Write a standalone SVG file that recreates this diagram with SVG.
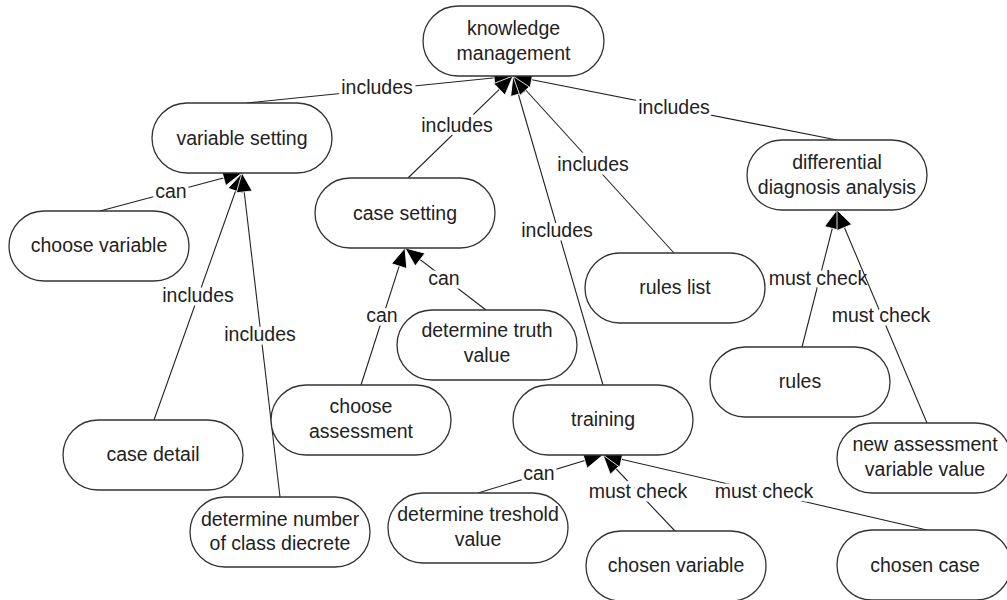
<svg xmlns="http://www.w3.org/2000/svg" width="1007" height="600" viewBox="0 0 1007 600">
<style>
.bg{fill:#fff}
.node rect{fill:#fff;stroke:#333;stroke-width:1.3}
.node text{font-family:"Liberation Sans",Arial,sans-serif;font-size:19.5px;fill:#222;text-anchor:middle}
.edge line{stroke:#222;stroke-width:1.1;fill:none;marker-end:url(#arr)}
.edge text{font-family:"Liberation Sans",Arial,sans-serif;font-size:19.5px;fill:#222;text-anchor:middle;stroke:#fff;stroke-width:7;paint-order:stroke;stroke-linejoin:round}
</style>
<defs>
<marker id="arr" markerUnits="userSpaceOnUse" markerWidth="22" markerHeight="18" refX="19" refY="8" orient="auto" overflow="visible">
<path d="M0,0 L19,8 L0,16 z" fill="#000" stroke="#fff" stroke-width="0.8"/>
</marker>
</defs>
<rect class="bg" x="0" y="0" width="1007" height="600"/>
<g id="connectors">
<g class="edge" id="e1"><line x1="247" y1="103" x2="513" y2="76"/><text x="377" y="93.5">includes</text></g>
<g class="edge" id="e2"><line x1="408" y1="178" x2="513" y2="76"/><text x="457" y="132">includes</text></g>
<g class="edge" id="e3"><line x1="603" y1="385" x2="513" y2="76"/><text x="557" y="236.5">includes</text></g>
<g class="edge" id="e4"><line x1="674" y1="253" x2="513" y2="76"/><text x="593" y="171">includes</text></g>
<g class="edge" id="e5"><line x1="837" y1="140" x2="513" y2="76"/><text x="674" y="114">includes</text></g>
<g class="edge" id="e6"><line x1="100" y1="211" x2="242" y2="173"/><text x="171" y="198">can</text></g>
<g class="edge" id="e7"><line x1="154" y1="420" x2="242" y2="173"/><text x="198" y="302">includes</text></g>
<g class="edge" id="e8"><line x1="280" y1="497" x2="242" y2="173"/><text x="260" y="341">includes</text></g>
<g class="edge" id="e9"><line x1="361" y1="385" x2="405" y2="248"/><text x="382" y="322">can</text></g>
<g class="edge" id="e10"><line x1="486" y1="310" x2="405" y2="248"/><text x="444" y="285">can</text></g>
<g class="edge" id="e11"><line x1="478" y1="493" x2="603" y2="455"/><text x="539" y="480">can</text></g>
<g class="edge" id="e12"><line x1="675" y1="531" x2="603" y2="455"/><text x="638" y="498">must check</text></g>
<g class="edge" id="e13"><line x1="927" y1="530" x2="603" y2="455"/><text x="764" y="498">must check</text></g>
<g class="edge" id="e14"><line x1="802" y1="347" x2="837" y2="210"/><text x="818" y="285">must check</text></g>
<g class="edge" id="e15"><line x1="927" y1="423" x2="837" y2="210"/><text x="881" y="321.5">must check</text></g>
</g>
<g id="nodes">
<g class="node" id="knowledge-management"><rect x="423" y="6" width="181" height="70" rx="35"/><text x="513.5" y="35">knowledge</text><text x="513.5" y="60">management</text></g>
<g class="node" id="variable-setting"><rect x="152" y="103" width="180" height="70" rx="35"/><text x="242" y="144.5">variable setting</text></g>
<g class="node" id="choose-variable"><rect x="9" y="211" width="180" height="70" rx="35"/><text x="99" y="252">choose variable</text></g>
<g class="node" id="case-setting"><rect x="315" y="178" width="180" height="70" rx="35"/><text x="405" y="219.5">case setting</text></g>
<g class="node" id="determine-truth-value"><rect x="397" y="310" width="180" height="70" rx="35"/><text x="487" y="337">determine truth</text><text x="487" y="362">value</text></g>
<g class="node" id="rules-list"><rect x="585" y="253" width="180" height="70" rx="35"/><text x="675" y="294">rules list</text></g>
<g class="node" id="differential-diagnosis-analysis"><rect x="747" y="140" width="180" height="70" rx="35"/><text x="837" y="169">differential</text><text x="837" y="194">diagnosis analysis</text></g>
<g class="node" id="case-detail"><rect x="63" y="420" width="180" height="70" rx="35"/><text x="153" y="461">case detail</text></g>
<g class="node" id="choose-assessment"><rect x="271" y="385" width="180" height="70" rx="35"/><text x="361" y="413">choose</text><text x="361" y="438">assessment</text></g>
<g class="node" id="determine-number"><rect x="190" y="497" width="180" height="70" rx="35"/><text x="280" y="526">determine number</text><text x="280" y="550">of class diecrete</text></g>
<g class="node" id="training"><rect x="513" y="385" width="180" height="70" rx="35"/><text x="603" y="426">training</text></g>
<g class="node" id="determine-treshold-value"><rect x="388" y="493" width="180" height="70" rx="35"/><text x="478" y="521">determine treshold</text><text x="478" y="546">value</text></g>
<g class="node" id="chosen-variable"><rect x="586" y="531" width="180" height="70" rx="35"/><text x="676" y="572">chosen variable</text></g>
<g class="node" id="rules"><rect x="710" y="347" width="180" height="70" rx="35"/><text x="800" y="388">rules</text></g>
<g class="node" id="new-assessment-variable-value"><rect x="837" y="423" width="174" height="70" rx="35"/><text x="925" y="451">new assessment</text><text x="925" y="476">variable value</text></g>
<g class="node" id="chosen-case"><rect x="837" y="530" width="174" height="70" rx="35"/><text x="925" y="572">chosen case</text></g>
</g>
</svg>
